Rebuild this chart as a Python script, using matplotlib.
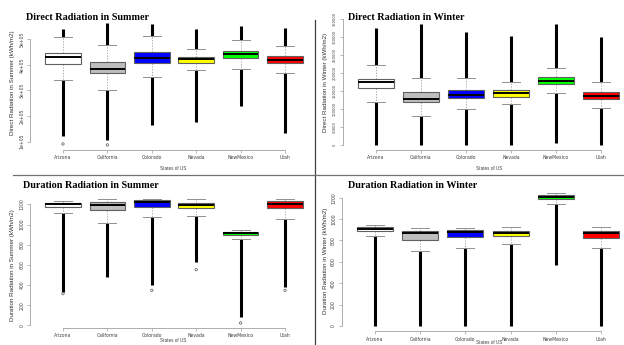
import matplotlib
matplotlib.use("Agg")
import matplotlib.pyplot as plt

W, H = 624, 345

states = ["Arizona", "California", "Colorado", "Nevada", "NewMexico", "Utah"]
colors = ["#FFFFFF", "#BEBEBE", "#0000FF", "#FFFF00", "#00FF00", "#FF0000"]

# ---- Direct Radiation in Summer
ds_q1 = [402000, 367000, 409000, 407000, 428000, 406000]
ds_med = [431000, 385000, 426000, 422000, 444000, 418000]
ds_q3 = [445000, 410000, 450000, 431000, 456000, 434000]
ds_lo = [341000, 302000, 351000, 378000, 385000, 367000]
ds_hi = [508000, 478000, 513000, 462000, 497000, 475000]
ds_min = [120000, 107000, 165000, 178000, 239000, 133000]
ds_max = [539000, 563000, 560000, 542000, 550000, 544000]
ds_lone = [91000, 87000, None, None, None, None]
ds_yticks = [100000, 200000, 300000, 400000, 500000]
ds_yticklabels = ["1e+05", "2e+05", "3e+05", "4e+05", "5e+05"]

# ---- Direct Radiation in Winter
dw_q1 = [157800, 119800, 131800, 134600, 170800, 129000]
dw_med = [174500, 129000, 138300, 143900, 179200, 135500]
dw_q3 = [182900, 146700, 153200, 152200, 188500, 146700]
dw_lo = [118800, 80800, 99300, 114200, 143900, 104000]
dw_hi = [221900, 185700, 185700, 174500, 215400, 174500]
dw_min = [0, 0, 0, 0, 6500, 0]
dw_max = [324900, 337000, 315600, 303600, 337000, 299900]
dw_yticks = [0, 50000, 100000, 150000, 200000, 250000, 300000, 350000]
dw_yticklabels = ["0", "50000", "100000", "150000", "200000", "250000", "300000", "350000"]

# ---- Duration Radiation in Summer
us_q1 = [1177, 1140, 1174, 1164, 896, 1164]
us_med = [1200, 1197, 1223, 1193, 912, 1200]
us_q3 = [1216, 1223, 1240, 1213, 929, 1230]
us_lo = [1111, 1015, 1074, 1088, 853, 1058]
us_hi = [1230, 1250, 1250, 1250, 942, 1250]
us_min = [331, 479, 397, 628, 83, 380]
us_max = [1230, 1250, 1250, 1250, 942, 1250]
us_lone = [314, None, 347, 552, 23, 347]
us_yticks = [0, 200, 400, 600, 800, 1000, 1200]

# ---- Duration Radiation in Winter
uw_q1 = [885, 807, 829, 838, 1184, 826]
uw_med = [910, 866, 876, 866, 1209, 866]
uw_q3 = [926, 888, 895, 885, 1222, 885]
uw_lo = [838, 698, 729, 767, 1138, 729]
uw_hi = [941, 913, 913, 923, 1241, 923]
uw_min = [0, 0, 0, 0, 574, 0]
uw_max = [941, 913, 913, 923, 1241, 923]
uw_yticks = [0, 200, 400, 600, 800, 1000, 1200]

fig = plt.figure(figsize=(W / 100, H / 100), dpi=100)
fig.patch.set_facecolor("white")


def rect(l, r, t, b):
    return [l / W, 1 - b / H, (r - l) / W, (b - t) / H]


def panel(r, ylim, q1, med, q3, lo, hi, vmin, vmax, yticks, yticklabels, lone=None, yfs=3.3):
    ax = fig.add_axes(rect(*r))
    ax.set_facecolor("none")
    stats = []
    for i in range(len(states)):
        stats.append(dict(med=med[i], q1=q1[i], q3=q3[i], whislo=lo[i], whishi=hi[i], fliers=[]))
    pos = list(range(1, len(states) + 1))
    # outlier columns (dense circles in the original)
    for i, p in enumerate(pos):
        if vmin[i] < lo[i]:
            ax.vlines(p, vmin[i], lo[i], color="black", lw=2.2, zorder=1)
        if vmax[i] > hi[i]:
            ax.vlines(p, hi[i], vmax[i], color="black", lw=2.2, zorder=1)
        if lone is not None and lone[i] is not None:
            ax.scatter([p], [lone[i]], s=3, facecolors="none", edgecolors="#555555", lw=0.5, zorder=2)
    bp = ax.bxp(stats, positions=pos, widths=0.8, patch_artist=True, showfliers=False,
                boxprops=dict(edgecolor="#606060", linewidth=0.8),
                medianprops=dict(color="black", linewidth=1.4),
                whiskerprops=dict(color="#909090", linewidth=0.5, linestyle=(0, (2, 2))),
                capprops=dict(color="#909090", linewidth=0.7),
                capwidths=0.4, manage_ticks=False)
    for patch, c in zip(bp["boxes"], colors):
        patch.set_facecolor(c)
        patch.set_zorder(3)
    for m in bp["medians"]:
        m.set_zorder(4)
    ax.set_xlim(0.26, 6.74)
    ax.set_ylim(*ylim)
    for s in ["top", "right"]:
        ax.spines[s].set_visible(False)
    ax.spines["bottom"].set_bounds(1, 6)
    ax.spines["left"].set_bounds(yticks[0], yticks[-1])
    for s in ["bottom", "left"]:
        ax.spines[s].set_color("#A0A0A0")
        ax.spines[s].set_linewidth(0.6)
    ax.set_xticks(pos)
    ax.set_xticklabels(states, fontsize=3.3, color="#404040")
    ax.set_yticks(yticks)
    ax.set_yticklabels(yticklabels, fontsize=yfs, color="#404040", rotation=90, va="center")
    ax.tick_params(length=2, width=0.5, color="#A0A0A0", pad=2)
    return ax


panel((30.1, 317.9, 18.3, 149.8), (68000, 582000), ds_q1, ds_med, ds_q3, ds_lo, ds_hi,
      ds_min, ds_max, ds_yticks, ds_yticklabels, lone=ds_lone)
panel((342.5, 634.5, 19.1, 149.8), (-13480, 350480), dw_q1, dw_med, dw_q3, dw_lo, dw_hi,
      dw_min, dw_max, dw_yticks, dw_yticklabels, yfs=2.6)
panel((30.1, 317.9, 194.4, 327.9), (-26, 1299), us_q1, us_med, us_q3, us_lo, us_hi,
      us_min, us_max, us_yticks, [str(v) for v in us_yticks], lone=us_lone)
panel((341.5, 634.5, 188.1, 331.3), (-50, 1290), uw_q1, uw_med, uw_q3, uw_lo, uw_hi,
      uw_min, uw_max, uw_yticks, [str(v) for v in uw_yticks])

title_kw = dict(fontfamily="Liberation Serif", fontweight="bold", fontsize=7.3, color="black",
                ha="left", va="center")
fig.text(26 / W, 1 - 17 / H, "Direct Radiation in Summer", **title_kw)
fig.text(348 / W, 1 - 17 / H, "Direct Radiation in Winter", **title_kw)
fig.text(23 / W, 1 - 185 / H, "Duration Radiation in Summer", **title_kw)
fig.text(348 / W, 1 - 185 / H, "Duration Radiation in Winter", **title_kw)

ylab_kw = dict(fontfamily="Liberation Sans", fontsize=4.5, color="#303030", rotation=90,
               ha="center", va="center")
fig.text(13 / W, 1 - 83 / H, "Direct Radiation in Summer (kWh/m2)", **ylab_kw)
fig.text(325 / W, 1 - 82 / H, "Direct Radiation in Winter (kWh/m2)", **ylab_kw)
fig.text(13 / W, 1 - 265 / H, "Duration Radiation in Summer (kWh/m2)", **ylab_kw)
fig.text(325 / W, 1 - 261 / H, "Duration Radiation in Winter (kWh/m2)", **ylab_kw)

xlab_kw = dict(fontfamily="Liberation Sans", fontsize=3.3, color="#404040", ha="center", va="center")
fig.text(173 / W, 1 - 168 / H, "States of US", **xlab_kw)
fig.text(489 / W, 1 - 168 / H, "States of US", **xlab_kw)
fig.text(173 / W, 1 - 341 / H, "States of US", **xlab_kw)
fig.text(489 / W, 1 - 343 / H, "States of US", **xlab_kw)

# separator lines of the composite
fig.add_artist(plt.Line2D([315 / W, 315 / W], [1 - 20 / H, 0], color="#404040", lw=0.9))
fig.add_artist(plt.Line2D([13 / W, 1], [1 - 175 / H, 1 - 175 / H], color="#707070", lw=0.9))

fig.savefig("out.png", dpi=100, facecolor="white")
